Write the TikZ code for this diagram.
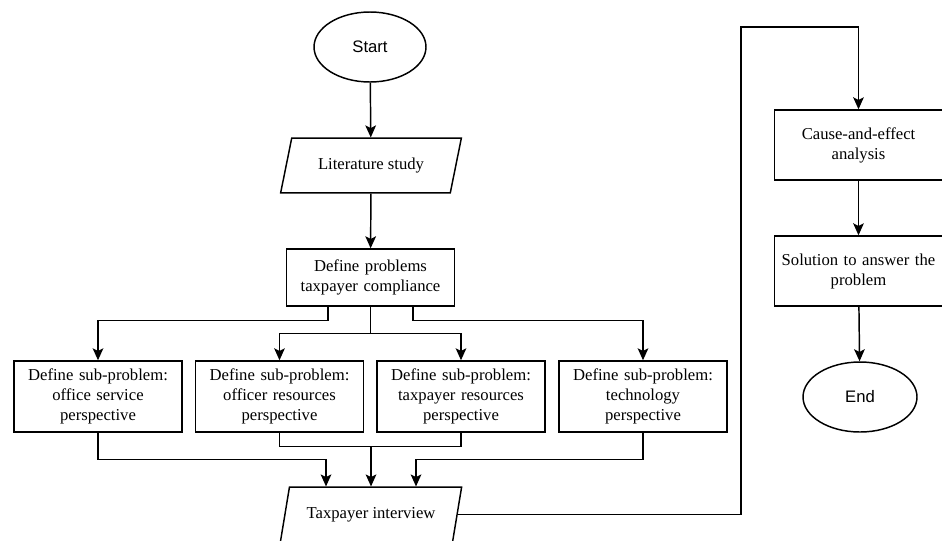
\documentclass[tikz,border=0pt]{standalone}
\usepackage{fontspec}
\setmainfont{Liberation Serif}
\setsansfont{Liberation Sans}
\usetikzlibrary{shapes.geometric,arrows.meta,calc}

\tikzstyle{terminal}=[ellipse,draw,minimum width=84pt,minimum height=52.5pt,inner sep=0pt,font=\sffamily\fontsize{12.5}{15}\selectfont]
\tikzstyle{io}=[trapezium,trapezium left angle=64,trapezium right angle=116,trapezium stretches=true,draw,minimum width=136pt,minimum height=41pt,inner sep=0pt]
\tikzstyle{process}=[rectangle,draw,minimum width=126pt,text width=122pt,align=center,inner sep=2pt]
\tikzstyle{arrow}=[-{Stealth[length=9pt,width=8pt,inset=2pt]}]

\begin{document}
\begin{tikzpicture}[x=0.75pt,y=-0.75pt,line width=1.1pt,font=\fontsize{12.5}{15}\selectfont]
	\useasboundingbox (0,0) rectangle (942,540);
	%Left column
	\node[terminal] (start) at (370,47) {Start};
	\node[io] (lit) at (371,165.5) {Literature study};
	\node[process,minimum height=42.75pt] (def) at (370.5,277.5) {Define problems\\ taxpayer compliance};
	%The sub-problems
	\foreach \pos/\name/\txt in {{(98,396.5)/sub1/office service}, {(279.5,396.5)/sub2/officer resources},
								{(461,396.5)/sub3/taxpayer resources}, {(643,396.5)/sub4/technology}}
		\node[process,minimum height=53.25pt] (\name) at \pos {Define sub-problem:\\ \txt\\ perspective};
	\node[io] (iv) at (371,514.5) {Taxpayer interview};
	%Right column
	\node[process,minimum height=52.5pt] (cause) at (858.5,145) {Cause-and-effect\\ analysis};
	\node[process,minimum height=52.5pt] (sol) at (858.5,271) {Solution to answer the\\ problem};
	\node[terminal,minimum width=85.5pt] (finish) at (860,397) {End};
	\coordinate (bend) at (741,27);
	%Connectors
	\draw[arrow] (start) -- (lit);
	\draw[arrow] (lit) -- (def);
	\draw[arrow] ($(def.south)!.5!(def.south west)$) -- ++(0,14) -| (sub1.north);
	\draw (def.south) -- ++(0,27) coordinate (fork);
	\draw[arrow] (fork) -| (sub2.north);
	\draw[arrow] (fork) -| (sub3.north);
	\draw[arrow] ($(def.south)!.5!(def.south east)$) -- ++(0,14) -| (sub4.north);
	\draw[arrow] (sub1.south) -- ++(0,27) -| ([xshift=-33.75pt]iv.north);
	\draw (sub2.south) -- ++(0,14) coordinate (merge) -| (sub3.south);
	\draw[arrow] (merge -| iv.north) -- (iv.north);
	\draw[arrow] (sub4.south) -- ++(0,27) -| ([xshift=33.75pt]iv.north);
	\draw[arrow] (iv.east) -| (bend) -| (cause.north);
	\draw[arrow] (cause) -- (sol);
	\draw[arrow] (sol) -- (finish);
\end{tikzpicture}
\end{document}
